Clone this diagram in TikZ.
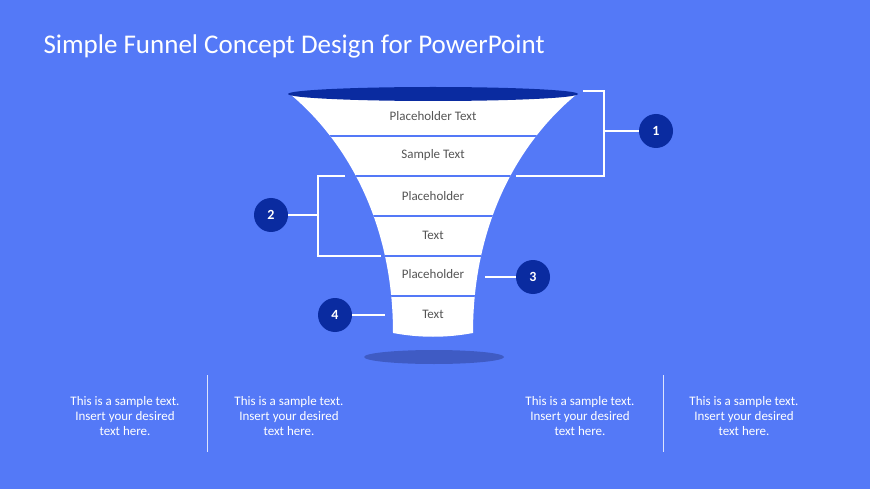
\documentclass[tikz,border=0pt]{standalone}
\usepackage{fontspec}
\setmainfont{Carlito}
\definecolor{bg}{HTML}{5479F7}
\definecolor{dk}{HTML}{0A2BA0}
\definecolor{sh}{HTML}{3F5BC4}
\definecolor{tx}{HTML}{555555}
\tikzset{num/.style={circle,fill=dk,minimum size=34pt,inner sep=0pt,text=white,font=\bfseries\fontsize{14}{16}\selectfont},
lbl/.style={text=tx,font=\fontsize{13}{15}\selectfont},
brk/.style={white,line width=2pt},
note/.style={text=white,align=center,font=\fontsize{13}{15}\selectfont}}
\begin{document}
\begin{tikzpicture}[x=1pt,y=-1pt]
\fill[bg] (0,0) rectangle (870,489);
\useasboundingbox (0,0) rectangle (870,489);
\node[anchor=west,text=white,font=\fontsize{27}{30}\selectfont] (title) at (40,46) {Simple Funnel Concept Design for PowerPoint};
\fill[sh] (434,357) ellipse (70 and 7);
\begin{scope}
\clip (290,94) .. controls (345,140) and (393,220) .. (393,333) .. controls (420,338) and (446,338) .. (473,333) .. controls (473,220) and (521,140) .. (577,94) -- cycle;
\fill[white] (280,80) rectangle (590,340);
\foreach \y in {136,176,216,256,296} \draw[bg,line width=1.6pt] (280,\y) -- (590,\y);
\end{scope}
\fill[dk] (433,94) ellipse (145 and 7);
\node[lbl] (t1) at (433,116) {Placeholder Text};
\node[lbl] (t2) at (433,155) {Sample Text};
\node[lbl] (t3) at (433,196) {Placeholder};
\node[lbl] (t4) at (433,235) {Text};
\node[lbl] (t5) at (433,274) {Placeholder};
\node[lbl] (t6) at (433,314) {Text};
\node[num] (n1) at (656,131) {1};
\node[num] (n2) at (271,215) {2};
\node[num] (n3) at (533,277) {3};
\node[num] (n4) at (335,315) {4};
\draw[brk] (583,91) -- (604,91) -- (604,176) -- (516,176);
\draw[brk] (604,131) -- (n1.west);
\draw[brk] (345,176) -- (318,176) -- (318,256) -- (381,256);
\draw[brk] (n2.east) -- (318,215);
\coordinate (c3) at (485,277);
\draw[brk] (c3) -- (n3.west);
\coordinate (c4) at (385,315);
\draw[brk] (n4.east) -- (c4);
\node[note] (a) at (125,416) {This is a sample text.\\Insert your desired\\text here.};
\node[note] (b) at (289,416) {This is a sample text.\\Insert your desired\\text here.};
\node[note] (c) at (580,416) {This is a sample text.\\Insert your desired\\text here.};
\node[note] (d) at (744,416) {This is a sample text.\\Insert your desired\\text here.};
\draw[white!80!bg,line width=1pt] (207,375) -- (207,452);
\draw[white!80!bg,line width=1pt] (663,375) -- (663,452);
\end{tikzpicture}
\end{document}
